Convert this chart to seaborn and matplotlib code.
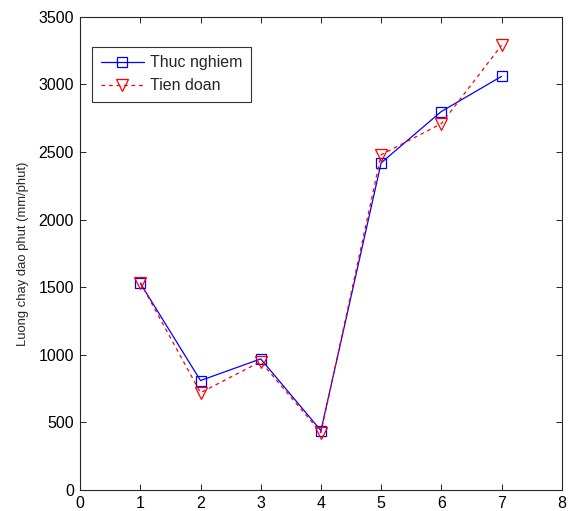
import pandas as pd
import seaborn as sns
import matplotlib.pyplot as plt

# values
x_vals = [1, 2, 3, 4, 5, 6, 7]
thuc_nghiem = [1530, 810, 970, 440, 2420, 2800, 3060]
tien_doan = [1535, 720, 950, 425, 2480, 2710, 3290]
x_ticks = [0, 1, 2, 3, 4, 5, 6, 7, 8]
y_ticks = [0, 500, 1000, 1500, 2000, 2500, 3000, 3500]


def plot_chart():
    sns.set_style('ticks')
    plt.rcParams['font.family'] = ['Liberation Sans', 'DejaVu Sans']
    plt.rcParams['xtick.direction'] = 'in'
    plt.rcParams['ytick.direction'] = 'in'

    df_tn = pd.DataFrame({'x': x_vals, 'y': thuc_nghiem})
    df_td = pd.DataFrame({'x': x_vals, 'y': tien_doan})

    fig = plt.figure(figsize=(5.68, 5.11), dpi=100)
    ax = fig.add_axes([0.141, 0.041, 0.848, 0.926])

    sns.lineplot(data=df_tn, x='x', y='y', ax=ax, color='blue', lw=0.9,
                 marker='s', markersize=7, markerfacecolor='none',
                 markeredgecolor='blue', markeredgewidth=0.9, label='Thuc nghiem')
    sns.lineplot(data=df_td, x='x', y='y', ax=ax, color='red', lw=0.9,
                 linestyle=(0, (3, 3)), marker='v', markersize=9,
                 markerfacecolor='none', markeredgecolor='red',
                 markeredgewidth=0.9, label='Tien doan')

    ax.set_xlim(0, 8)
    ax.set_ylim(0, 3500)
    ax.set_xticks(x_ticks)
    ax.set_yticks(y_ticks)
    ax.tick_params(labelsize=11.5, length=4, width=0.6, top=True, right=True,
                   colors='black')
    ax.tick_params(axis='y', pad=4.5)
    ax.tick_params(axis='x', pad=4)
    ax.set_xlabel('')
    ax.set_ylabel('Luong chay dao phut (mm/phut)', fontsize=9.4, labelpad=7)
    for s in ax.spines.values():
        s.set_linewidth(0.8)

    leg = ax.legend(loc='upper left', bbox_to_anchor=(0.025, 0.937), fontsize=11.5,
                    frameon=True, fancybox=False, edgecolor='black',
                    borderaxespad=0, handlelength=2.7, handletextpad=0.35,
                    borderpad=0.55, labelspacing=0.5)
    leg.get_frame().set_linewidth(0.8)

    fig.savefig('out.png', dpi=100)


if __name__ == "__main__":
    plot_chart()
